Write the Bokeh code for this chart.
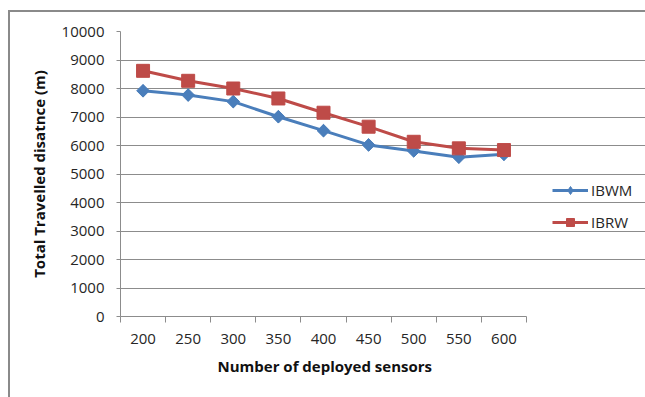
import math

from bokeh.embed import file_html
from bokeh.models import (FixedTicker, InlineStyleSheet, Legend, LegendItem,
                          Range1d, Title)
from bokeh.plotting import figure
from bokeh.resources import INLINE

# Number of deployed sensors and total travelled distance (m) per scheme
sensors = [200, 250, 300, 350, 400, 450, 500, 550, 600]
ibwm = [7920, 7770, 7540, 7010, 6520, 6020, 5810, 5590, 5690]
ibrw = [8620, 8270, 8000, 7650, 7150, 6660, 6130, 5900, 5840]
y_ticks = list(range(0, 10001, 1000))

BLUE = "#4a7ebb"
RED = "#be4b48"
GRID = "#8c8c8c"
FONT = "Open Sans"

W, H = 645, 397
LEFT, TOP, BOTTOM = 120, 31, 81
PLOT_W = 406  # width of the gridded area, the legend sits to its right

step = sensors[1] - sensors[0]
bounds = [s - step / 2 for s in sensors] + [sensors[-1] + step / 2]
x_start, x_end = bounds[0], bounds[-1]
# the frame runs to the right edge so the legend can live inside it
x_stop = x_start + (x_end - x_start) * (W - LEFT) / PLOT_W

p = figure(
    width=W, height=H,
    output_backend="svg", toolbar_location=None,
    x_range=Range1d(x_start, x_stop),
    y_range=Range1d(0, 10000),
    min_border_left=LEFT, min_border_right=0,
    min_border_top=TOP, min_border_bottom=BOTTOM,
)
p.outline_line_color = None
p.background_fill_color = "white"
p.border_fill_color = "white"

# frame around the chart area (left and top edges)
p.stylesheets = [InlineStyleSheet(css="""
:host { position: relative; }
:host::after {
  content: ""; position: absolute; left: 8px; top: 10px; right: 0; bottom: 0;
  border-left: 2px solid #8a8a8a; border-top: 2px solid #8a8a8a;
  pointer-events: none; z-index: 10;
}
""")]

# axes
xa = p.xaxis[0]
xa.bounds = (x_start, x_end)
xa.ticker = FixedTicker(ticks=sensors, minor_ticks=bounds)
xa.major_tick_line_color = None
xa.minor_tick_line_color = GRID
xa.minor_tick_out = 6
xa.minor_tick_in = 0
xa.axis_line_color = GRID
xa.major_label_text_font = FONT
xa.major_label_text_font_size = "15px"
xa.major_label_text_color = "#262626"
xa.major_label_standoff = 11

# x-axis title, centred under the gridded area rather than the whole frame
x_title = Title(
    text="Number of deployed sensors", align="left", offset=97,
    text_font=FONT, text_font_style="bold", text_font_size="15px",
    text_color="#111111", standoff=14,
)
p.add_layout(x_title, "below")

ya = p.yaxis[0]
ya.ticker = FixedTicker(ticks=y_ticks, minor_ticks=[])
ya.major_tick_line_color = GRID
ya.major_tick_out = 4
ya.major_tick_in = 0
ya.axis_line_color = GRID
ya.major_label_text_font = FONT
ya.major_label_text_font_size = "15px"
ya.major_label_text_color = "#262626"
ya.major_label_standoff = 12
ya.axis_label = "Total Travelled disatnce (m)"
ya.axis_label_text_font = FONT
ya.axis_label_text_font_style = "bold"
ya.axis_label_text_font_size = "15px"
ya.axis_label_text_color = "#111111"
ya.axis_label_standoff = 10

p.xgrid.visible = False
p.ygrid.ticker = FixedTicker(ticks=y_ticks, minor_ticks=[])
p.ygrid.bounds = (x_start, x_end)
p.ygrid.grid_line_color = GRID
p.ygrid.grid_line_width = 1

# series
l1 = p.line(sensors, ibwm, line_color=BLUE, line_width=3)
# plain diamonds (used as the legend key) hidden under the rotated squares
k1 = p.scatter(sensors, ibwm, marker="diamond", size=12,
               fill_color=BLUE, line_color=BLUE)
s1 = p.scatter(sensors, ibwm, marker="square", angle=math.pi / 4, size=9,
               fill_color=BLUE, line_color=BLUE)
l2 = p.line(sensors, ibrw, line_color=RED, line_width=3)
s2 = p.scatter(sensors, ibrw, marker="square", size=13,
               fill_color=RED, line_color=RED)

legend = Legend(
    items=[LegendItem(label="IBWM", renderers=[l1, k1]),
           LegendItem(label="IBRW", renderers=[l2, s2])],
    location=(552 - LEFT, 84),
    glyph_width=36, glyph_height=20, label_height=20,
    label_standoff=3, spacing=12, padding=0, margin=0,
    border_line_color=None, background_fill_alpha=0,
    label_text_font=FONT, label_text_font_size="15px",
    label_text_color="#262626",
)
p.add_layout(legend)

open("out.html", "w").write(file_html(p, INLINE))
